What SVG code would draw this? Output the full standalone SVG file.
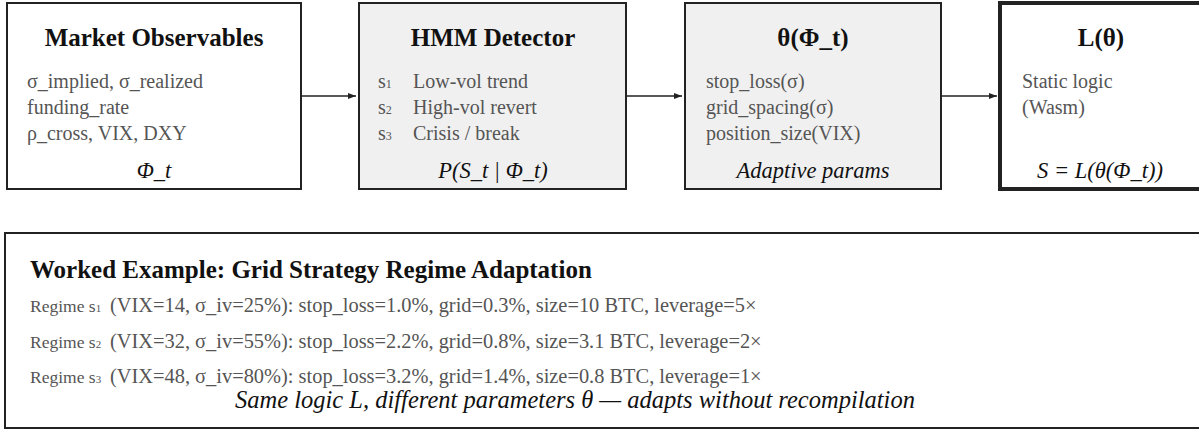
<svg xmlns="http://www.w3.org/2000/svg" width="1199" height="429" viewBox="0 0 1199 429">
  <defs>
    <marker id="arrow" markerWidth="8" markerHeight="6" refX="8" refY="3" orient="auto" markerUnits="userSpaceOnUse">
      <path d="M0,0 L8,3 L0,6 Z" fill="#222"/>
    </marker>
    <style>
      text { font-family: "Liberation Serif", "Times New Roman", serif; }
      .box { fill: #ffffff; stroke: #222; stroke-width: 2; }
      .shaded { fill: #f0f0f0; }
      .heavy { stroke-width: 4; }
      .title { font-size: 25px; font-weight: bold; fill: #111; text-anchor: middle; }
      .body { font-size: 20px; fill: #555; }
      .sub { font-size: 12px; }
      .foot { font-size: 22.5px; font-style: italic; fill: #111; text-anchor: middle; }
      .edge { stroke: #222; stroke-width: 1.6; fill: none; marker-end: url(#arrow); }
      .ex-title { font-size: 25px; font-weight: bold; fill: #111; }
      .ex-label { font-size: 17.5px; fill: #555; }
      .ex-sub { font-size: 11px; }
      .ex-body { font-size: 20.4px; fill: #555; }
      .ex-foot { font-size: 24.5px; font-style: italic; fill: #111; text-anchor: middle; }
    </style>
  </defs>

  <g id="connectors">
    <line class="edge" x1="301" y1="96" x2="356" y2="96"/>
    <line class="edge" x1="626" y1="96" x2="682" y2="96"/>
    <line class="edge" x1="941" y1="96" x2="997" y2="96"/>
  </g>

  <g id="market-observables">
    <rect class="box" x="7" y="3" width="294" height="186"/>
    <text class="title" x="154" y="46">Market Observables</text>
    <text class="body" x="27" y="88">σ_implied, σ_realized</text>
    <text class="body" x="27" y="114">funding_rate</text>
    <text class="body" x="27" y="140">ρ_cross, VIX, DXY</text>
    <text class="foot" x="154" y="178">Φ_t</text>
  </g>

  <g id="hmm-detector">
    <rect class="box shaded" x="359" y="3" width="267" height="186"/>
    <text class="title" x="493" y="46">HMM Detector</text>
    <text class="body" x="378" y="88">s<tspan class="sub">1</tspan></text>
    <text class="body" x="413" y="88">Low-vol trend</text>
    <text class="body" x="378" y="114">s<tspan class="sub">2</tspan></text>
    <text class="body" x="413" y="114">High-vol revert</text>
    <text class="body" x="378" y="140">s<tspan class="sub">3</tspan></text>
    <text class="body" x="413" y="140">Crisis / break</text>
    <text class="foot" x="493" y="178">P(S_t | Φ_t)</text>
  </g>

  <g id="adaptive-params">
    <rect class="box shaded" x="685" y="3" width="256" height="186"/>
    <text class="title" x="813" y="46">θ(Φ_t)</text>
    <text class="body" x="706" y="88">stop_loss(σ)</text>
    <text class="body" x="706" y="114">grid_spacing(σ)</text>
    <text class="body" x="706" y="140">position_size(VIX)</text>
    <text class="foot" x="813" y="178">Adaptive params</text>
  </g>

  <g id="static-logic">
    <rect class="box heavy" x="1000" y="3" width="220" height="186"/>
    <text class="title" x="1101" y="46">L(θ)</text>
    <text class="body" x="1022" y="88">Static logic</text>
    <text class="body" x="1022" y="114">(Wasm)</text>
    <text class="foot" x="1100" y="178">S = L(θ(Φ_t))</text>
  </g>

  <g id="worked-example">
    <rect class="box" x="5" y="233" width="1215" height="195" stroke-width="1.6"/>
    <text class="ex-title" x="30" y="278">Worked Example: Grid Strategy Regime Adaptation</text>
    <text class="ex-label" x="30" y="312">Regime s<tspan class="ex-sub">1</tspan></text>
    <text class="ex-body" x="110" y="312">(VIX=14, σ_iv=25%): stop_loss=1.0%, grid=0.3%, size=10 BTC, leverage=5×</text>
    <text class="ex-label" x="30" y="348">Regime s<tspan class="ex-sub">2</tspan></text>
    <text class="ex-body" x="110" y="348">(VIX=32, σ_iv=55%): stop_loss=2.2%, grid=0.8%, size=3.1 BTC, leverage=2×</text>
    <text class="ex-label" x="30" y="383">Regime s<tspan class="ex-sub">3</tspan></text>
    <text class="ex-body" x="110" y="383">(VIX=48, σ_iv=80%): stop_loss=3.2%, grid=1.4%, size=0.8 BTC, leverage=1×</text>
    <text class="ex-foot" x="575" y="408">Same logic L, different parameters θ — adapts without recompilation</text>
  </g>
</svg>
